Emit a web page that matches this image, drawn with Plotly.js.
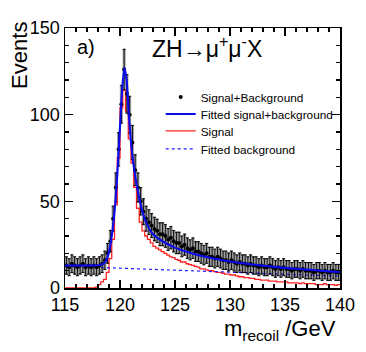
<!DOCTYPE html>
<html>
<head>
<meta charset="utf-8">
<script src="https://cdn.plot.ly/plotly-3.0.1.min.js"></script>
<style>
  html, body { margin: 0; padding: 0; background: #fff; }
  #graph { width: 366px; height: 352px; }
</style>
</head>
<body>
<div id="graph"></div>
<script>
// binning of the recoil mass histogram
var binLow = 115;
var binWidth = 0.25;

// Signal+Background (data points) per bin
var dataCounts = [
  13, 12, 14, 13, 12, 13, 14, 12, 13, 12,
  13, 12, 13, 14, 16, 20, 27, 40, 58, 80,
  106, 126, 112, 100, 84, 68, 58, 50, 44, 40,
  38, 36, 34, 33, 31, 31, 30, 28, 29, 27,
  26, 26, 24, 25, 23, 22, 23, 21, 21, 20,
  19, 20, 18, 18, 17, 18, 17, 16, 16, 15,
  16, 15, 14, 15, 14, 14, 13, 14, 13, 13,
  12, 13, 12, 12, 13, 12, 11, 12, 11, 12,
  11, 11, 10, 11, 11, 10, 11, 10, 10, 10,
  9, 10, 10, 9, 10, 9, 9, 10, 9, 9
];
var dataErrors = [
  5.0, 4.9, 5.1, 5.0, 4.9, 5.0, 5.1, 4.9, 5.0, 4.9,
  5.0, 4.9, 5.0, 5.1, 5.3, 5.7, 6.2, 7.2, 8.4, 9.6,
  10.9, 11.7, 11.1, 10.6, 9.8, 8.9, 8.4, 7.9, 7.5, 7.2,
  7.1, 6.9, 6.8, 6.7, 6.6, 6.6, 6.5, 6.3, 6.4, 6.2,
  6.2, 6.2, 6.0, 6.1, 5.9, 5.8, 5.9, 5.7, 5.7, 5.7,
  5.6, 5.7, 5.5, 5.5, 5.4, 5.5, 5.4, 5.3, 5.3, 5.2,
  5.3, 5.2, 5.1, 5.2, 5.1, 5.1, 5.0, 5.1, 5.0, 5.0,
  4.9, 5.0, 4.9, 4.9, 5.0, 4.9, 4.8, 4.9, 4.8, 4.9,
  4.8, 4.8, 4.7, 4.8, 4.8, 4.7, 4.8, 4.7, 4.7, 4.7,
  4.6, 4.7, 4.7, 4.6, 4.7, 4.6, 4.6, 4.7, 4.6, 4.6
];

// Signal histogram per bin
var signalCounts = [
  0, 0, 0, 0, 0, 0, 0, 0, 0, 0,
  0, 0.5, 2, 3.5, 5, 9, 17, 28, 48, 75,
  104, 114, 102, 86, 72, 58, 46, 38, 33, 30,
  28, 26, 24, 23, 22, 21, 20, 19, 18, 17.5,
  16.5, 16, 15, 15, 14, 13.5, 13, 12.5, 12, 11,
  11, 10.5, 10, 10, 9.5, 9, 9, 8.5, 8, 8,
  7.5, 7.5, 7, 6.5, 6.5, 6, 6, 5.5, 5.5, 5,
  5, 4.5, 4.5, 4.5, 4, 4, 4, 3.5, 3.5, 3.5,
  3.5, 3, 3, 3, 3, 2.5, 3, 2.5, 2.5, 2.5,
  2.5, 2, 2, 2, 2.5, 2, 2, 2, 1.5, 2
];

// fitted signal+background curve
var fitX = [115, 116, 117, 117.5, 118, 118.25, 118.5, 118.75, 119, 119.25,
  119.5, 119.75, 120, 120.2, 120.4, 120.6, 120.8, 121, 121.25, 121.5,
  121.75, 122, 122.5, 123, 123.5, 124, 124.5, 125, 126, 127,
  128, 129, 130, 131, 132, 133, 134, 135, 136, 137,
  138, 139, 140];
var fitY = [13, 13, 13, 13, 13.1, 13.4, 14, 16, 21, 30,
  44, 65, 93, 115, 127, 120, 100, 84, 70, 60,
  52, 45, 36, 31, 28.5, 26.5, 24.8, 23.3, 21, 19.2,
  17.7, 16.4, 15.3, 14.4, 13.6, 12.9, 12.2, 11.6, 11.1, 10.6,
  10.1, 9.6, 9.2];

// fitted background
var bgX = [115, 120, 125, 130, 135, 140];
var bgY = [12.6, 11.5, 10.4, 9.2, 8.0, 6.8];

var xTicks = [115, 120, 125, 130, 135, 140];
var yTicks = [0, 50, 100, 150];

var centers = [], edges = [], boxBase = [], boxHeight = [], sigStep = [];
for (var i = 0; i < dataCounts.length; i++) {
    centers.push(binLow + binWidth * (i + 0.5));
    edges.push(binLow + binWidth * i);
    sigStep.push(signalCounts[i]);
    boxBase.push(dataCounts[i] - dataErrors[i]);
    boxHeight.push(2 * dataErrors[i]);
}
edges.push(binLow + binWidth * dataCounts.length);
sigStep.push(signalCounts[signalCounts.length - 1]);

var boxes = {
    type: 'bar', x: centers, y: boxHeight, base: boxBase, width: binWidth * 0.8,
    marker: { color: '#c4c4c4', line: { color: '#7a7a7a', width: 0.6 } },
    showlegend: false, hoverinfo: 'skip'
};
var signal = {
    type: 'scatter', mode: 'lines', x: edges, y: sigStep, name: 'Signal',
    line: { color: '#ff2020', width: 1.3, shape: 'hv' }, legend: 'legend3'
};
var background = {
    type: 'scatter', mode: 'lines', x: bgX, y: bgY, name: 'Fitted background',
    line: { color: '#1a1aff', width: 1.2, dash: 'dot' }, legend: 'legend4'
};
var points = {
    type: 'scatter', mode: 'markers', x: centers, y: dataCounts, name: 'Signal+Background',
    marker: { color: 'black', size: 4 },
    error_y: { type: 'data', array: dataErrors, visible: true, color: 'black', thickness: 1, width: 1.5 },
    legend: 'legend'
};
var fit = {
    type: 'scatter', mode: 'lines', x: fitX, y: fitY, name: 'Fitted signal+background',
    line: { color: '#0a0aee', width: 2.1, shape: 'spline', smoothing: 0.6 }, legend: 'legend2'
};

var axisCommon = {
    showline: true, linecolor: 'black', linewidth: 1.5, mirror: 'ticks',
    ticks: 'inside', ticklen: 8, tickwidth: 1.2, tickcolor: 'black',
    showgrid: false, zeroline: false,
    tickfont: { size: 18, color: 'black' }
};

// one legend box per row so the rows sit where the reference has them
function legendRow(yPaper) {
    return {
        x: 0.348, y: yPaper, xanchor: 'left', yanchor: 'middle',
        bgcolor: 'rgba(0,0,0,0)', font: { size: 11.8 }, itemwidth: 30
    };
}

var layout = {
    width: 366, height: 352,
    margin: { l: 65, r: 26, t: 28, b: 64 },
    paper_bgcolor: 'white', plot_bgcolor: 'white',
    font: { family: 'Liberation Sans, Arial, sans-serif', color: 'black' },
    showlegend: true,
    legend: legendRow(0.735),
    legend2: legendRow(0.669),
    legend3: legendRow(0.604),
    legend4: legendRow(0.535),
    xaxis: Object.assign({}, axisCommon, {
        range: [115, 140], tickvals: xTicks,
        minor: { dtick: 1, ticklen: 4, tickcolor: 'black', ticks: 'inside' }
    }),
    yaxis: Object.assign({}, axisCommon, {
        range: [0, 150], tickvals: yTicks,
        minor: { dtick: 10, ticklen: 4, tickcolor: 'black', ticks: 'inside' }
    }),
    annotations: [
        { xref: 'paper', yref: 'paper', x: -0.163, y: 1.03, xanchor: 'center', yanchor: 'top',
          text: 'Events', textangle: -90, showarrow: false, font: { size: 22 } },
        { xref: 'paper', yref: 'paper', x: 0.993, y: -0.1, xanchor: 'right', yanchor: 'top',
          text: 'm<sub>recoil</sub> /GeV', showarrow: false, font: { size: 22 } },
        { xref: 'paper', yref: 'paper', x: 0.035, y: 0.925, xanchor: 'left', yanchor: 'middle',
          text: 'a)', showarrow: false, font: { size: 20 } },
        { xref: 'paper', yref: 'paper', x: 0.31, y: 0.925, xanchor: 'left', yanchor: 'middle',
          text: 'ZH\u2192\u03bc<sup>+</sup>\u03bc<sup>-</sup>X', showarrow: false, font: { size: 23 } }
    ]
};

Plotly.newPlot('graph', [boxes, signal, background, points, fit], layout, { staticPlot: true });
</script>
</body>
</html>
